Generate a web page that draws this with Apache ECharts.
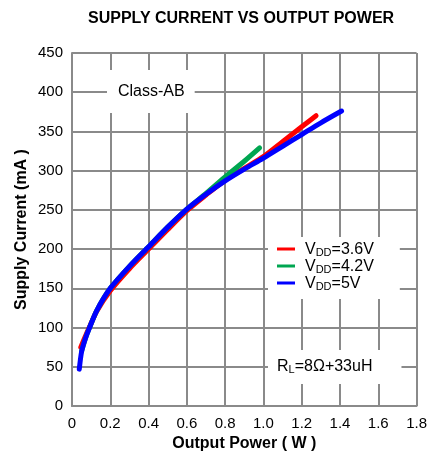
<!DOCTYPE html>
<html>
<head>
<meta charset="utf-8">
<script src="https://cdn.jsdelivr.net/npm/echarts@6/dist/echarts.min.js"></script>
<style>html,body{margin:0;padding:0;background:#fff}#c{width:430px;height:457px}</style>
</head>
<body>
<div id="c"></div>
<script>
const xTicks = [0, 0.2, 0.4, 0.6, 0.8, 1.0, 1.2, 1.4, 1.6, 1.8];
const yTicks = [0, 50, 100, 150, 200, 250, 300, 350, 400, 450];
const seriesNames = ['VDD=3.6V', 'VDD=4.2V', 'VDD=5V'];
const redP = [0.046,0.07,0.09,0.13,0.2,0.3,0.4,0.5,0.6,0.7,0.8,0.9,1.0,1.1,1.2,1.275];
const redI = [75,89,100,121,147,175,200,225,249,269,288,303,318,337,356,370];
const greenP = [0.05,0.07,0.09,0.13,0.2,0.3,0.4,0.5,0.6,0.7,0.8,0.9,0.98];
const greenI = [70,86,99,122,150,178,203,228,251,271,292,312,329];
const blueP = [0.038,0.05,0.07,0.09,0.13,0.2,0.3,0.4,0.5,0.6,0.7,0.8,0.9,1.0,1.1,1.2,1.3,1.408];
const blueI = [47,69,86,99,122,150,178,203,228,251,270,287,302,316,331,346,361,376];

const zip = (a, b) => a.map((v, i) => [v, b[i]]);
const font = 'Liberation Sans, Arial, sans-serif';
const gridColor = '#8a8a8a';
const colors = ['#ff0000', '#00a651', '#0000ff'];
const dataSets = [zip(redP, redI), zip(greenP, greenI), zip(blueP, blueI)];

const chart = echarts.init(document.getElementById('c'), null, {renderer: 'canvas'});
chart.setOption({
  animation: false,
  backgroundColor: '#fff',
  title: [
    {text: 'SUPPLY CURRENT VS OUTPUT POWER', left: 88, top: 11, padding: 0,
     textStyle: {fontFamily: font, fontSize: 16, fontWeight: 'bold', color: '#000'}},
    {text: 'Class-AB', left: 107, top: 70, padding: [13, 10, 12, 11], backgroundColor: '#fff',
     textStyle: {fontFamily: font, fontSize: 16, fontWeight: 'normal', color: '#000', lineHeight: 18}},
    {text: '{m|R}{s|L}{m|=8Ω+33uH}', left: 268, top: 348, padding: [9, 29, 9, 9], backgroundColor: '#fff',
     textStyle: {fontFamily: font, fontSize: 16, fontWeight: 'normal', color: '#000',
       rich: {m: {fontFamily: font, fontSize: 16, color: '#000', lineHeight: 18, verticalAlign: 'bottom'},
              s: {fontFamily: font, fontSize: 11, color: '#000', lineHeight: 18, verticalAlign: 'bottom'}}}}
  ],
  legend: {
    data: seriesNames, orient: 'vertical', left: 268, top: 237,
    padding: [5, 26, 7, 9], itemGap: 1, itemWidth: 18, itemHeight: 3,
    backgroundColor: '#fff', icon: 'rect',
    formatter: n => '{m|V}{s|DD}{m|' + n.slice(3) + '}',
    textStyle: {fontFamily: font, fontSize: 16, color: '#000', padding: [0, 0, 0, 5],
      rich: {m: {fontFamily: font, fontSize: 16, color: '#000', lineHeight: 18, verticalAlign: 'bottom'},
             s: {fontFamily: font, fontSize: 11, color: '#000', lineHeight: 18, verticalAlign: 'bottom'}}}
  },
  grid: {left: 72, right: 9, top: 53, bottom: 49, containLabel: false},
  xAxis: {
    type: 'value', min: xTicks[0], max: xTicks[xTicks.length - 1], interval: 0.2,
    name: 'Output Power ( W )', nameLocation: 'middle', nameGap: 30, nameMoveOverlap: false,
    nameTextStyle: {fontFamily: font, fontSize: 16, fontWeight: 'bold', color: '#000'},
    axisLine: {lineStyle: {color: gridColor, width: 2}},
    axisTick: {show: false},
    splitLine: {show: true, lineStyle: {color: gridColor, width: 2}},
    axisLabel: {fontFamily: font, fontSize: 15, color: '#000', margin: 10,
      formatter: v => v === 0 ? '0' : v.toFixed(1)}
  },
  yAxis: {
    type: 'value', min: yTicks[0], max: yTicks[yTicks.length - 1], interval: 50,
    name: 'Supply Current (mA )', nameLocation: 'middle', nameGap: 42, nameMoveOverlap: false,
    nameTextStyle: {fontFamily: font, fontSize: 16, fontWeight: 'bold', color: '#000'},
    axisLine: {show: true, lineStyle: {color: gridColor, width: 2}},
    axisTick: {show: false},
    splitLine: {show: true, lineStyle: {color: gridColor, width: 2}},
    axisLabel: {fontFamily: font, fontSize: 15, color: '#000', margin: 9}
  },
  series: seriesNames.map((n, i) => ({
    name: n, type: 'line', data: dataSets[i], showSymbol: false, symbol: 'none',
    smooth: 0.25, z: 2 + i,
    lineStyle: {color: colors[i], width: 5, cap: 'round', join: 'round'},
    itemStyle: {color: colors[i]}
  }))
});
</script>
</body>
</html>
